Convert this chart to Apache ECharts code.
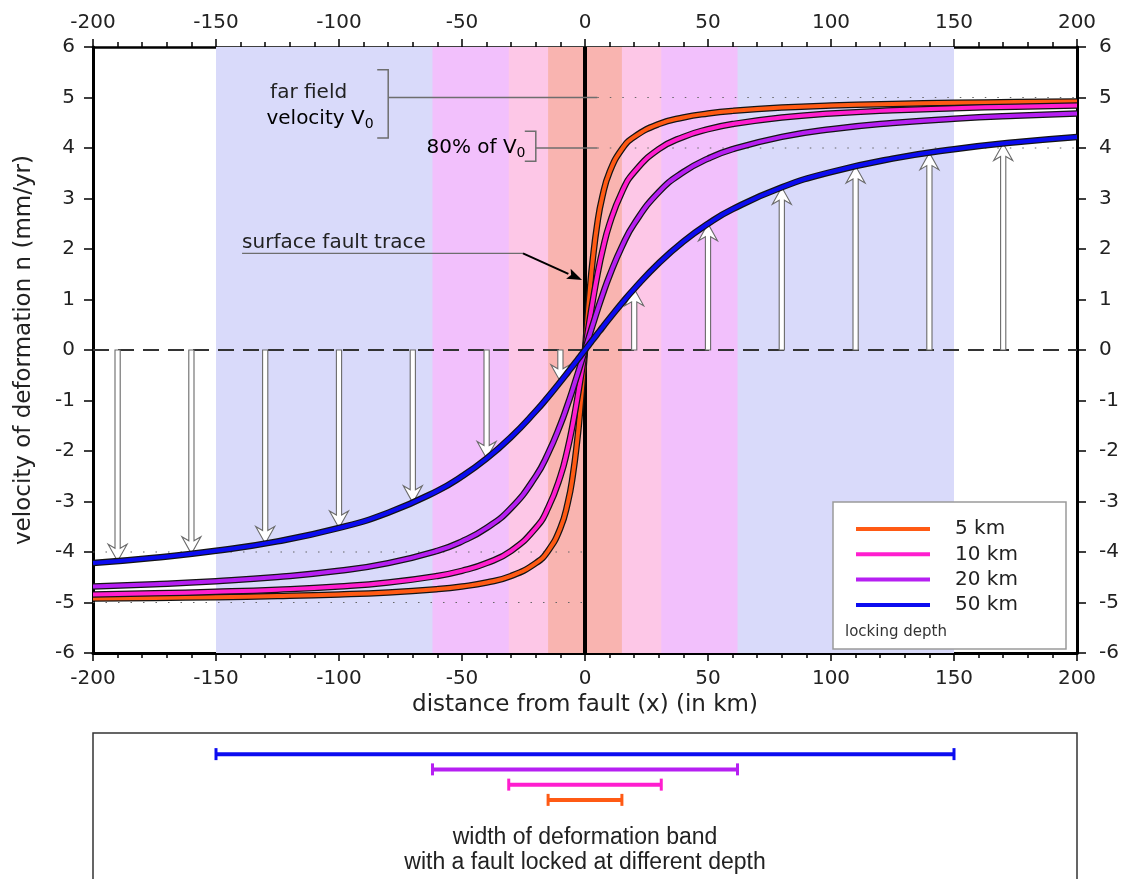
<!DOCTYPE html>
<html>
<head>
<meta charset="utf-8">
<script src="https://cdn.jsdelivr.net/npm/echarts/dist/echarts.min.js"></script>
<style>
  html, body { margin: 0; padding: 0; background: #ffffff; }
  #chart { width: 1129px; height: 879px; }
</style>
</head>
<body>
<div id="chart"></div>
<script>
// Distance from the fault (km) at which each velocity profile is sampled
const distanceKm = [-200, -175, -150, -125, -100, -80, -60, -50, -40, -30, -20, -15, -10, -7, -5, -3, -2, -1, 0,
                    1, 2, 3, 5, 7, 10, 15, 20, 30, 40, 50, 60, 80, 100, 125, 150, 175, 200];

// Velocity of deformation (mm/yr) for each locking depth
const depth5km  = [-4.920, -4.909, -4.894, -4.873, -4.841, -4.801, -4.735, -4.683, -4.604, -4.474, -4.220, -3.976, -3.524, -3.026, -2.500, -1.720, -1.211, -0.628, 0,
                   0.628, 1.211, 1.720, 2.500, 3.026, 3.524, 3.976, 4.220, 4.474, 4.604, 4.683, 4.735, 4.801, 4.841, 4.873, 4.894, 4.909, 4.920];
const depth10km = [-4.841, -4.818, -4.788, -4.746, -4.683, -4.604, -4.474, -4.372, -4.220, -3.976, -3.524, -3.128, -2.500, -1.944, -1.476, -0.928, -0.628, -0.317, 0,
                   0.317, 0.628, 0.928, 1.476, 1.944, 2.500, 3.128, 3.524, 3.976, 4.220, 4.372, 4.474, 4.604, 4.683, 4.746, 4.788, 4.818, 4.841];
const depth20km = [-4.683, -4.638, -4.578, -4.495, -4.372, -4.220, -3.976, -3.789, -3.524, -3.128, -2.500, -2.048, -1.476, -1.072, -0.780, -0.474, -0.317, -0.159, 0,
                   0.159, 0.317, 0.474, 0.780, 1.072, 1.476, 2.048, 2.500, 3.128, 3.524, 3.789, 3.976, 4.220, 4.372, 4.495, 4.578, 4.638, 4.683];
const depth50km = [-4.220, -4.114, -3.976, -3.789, -3.524, -3.222, -2.789, -2.500, -2.148, -1.720, -1.211, -0.928, -0.628, -0.443, -0.317, -0.191, -0.127, -0.064, 0,
                   0.064, 0.127, 0.191, 0.317, 0.443, 0.628, 0.928, 1.211, 1.720, 2.148, 2.500, 2.789, 3.222, 3.524, 3.789, 3.976, 4.114, 4.220];

const lockingDepths = ['5 km', '10 km', '20 km', '50 km'];
// Half-width (km) of the deformation band for each locking depth
const bandHalfWidth = [15, 31, 62, 150];

// Velocity arrows along the 50 km profile
const arrowX = [-190, -160, -130, -100, -70, -40, -10, 20, 50, 80, 110, 140, 170];
const arrowV = [-4.182, -4.036, -3.831, -3.524, -3.026, -2.148, -0.628, 1.211, 2.500, 3.222, 3.642, 3.908, 4.089];

// Reference velocities (mm/yr)
const farFieldV = 5;
const eightyPctV = 4;

// ---- styling ----
const FONT = '"DejaVu Sans", sans-serif';
const TEXT = '#222222';
const curveColors = ['#ff5a14', '#ff1ecf', '#b61ff2', '#0c0cf0'];
const bandColors  = ['#f9b4b0', '#fdc7e7', '#f2c0fc', '#d9dafa'];

const profiles = [depth5km, depth10km, depth20km, depth50km];

const chart = echarts.init(document.getElementById('chart'), null, { renderer: 'canvas' });

function valueXAxis(extra) {
  return Object.assign({
    type: 'value', gridIndex: 0, min: -200, max: 200, interval: 50,
    axisLine: { show: true, onZero: false, lineStyle: { color: '#000', width: 3 } },
    axisTick: { show: true, inside: false, length: 8, lineStyle: { color: '#000', width: 1.5 } },
    minorTick: { show: true, splitNumber: 5, length: 5, lineStyle: { color: '#000', width: 1.5 } },
    splitLine: { show: false },
    axisLabel: { fontSize: 20, fontFamily: FONT, color: TEXT }
  }, extra);
}
function valueYAxis(extra) {
  return Object.assign({
    type: 'value', gridIndex: 0, min: -6, max: 6, interval: 1,
    axisLine: { show: true, onZero: false, lineStyle: { color: '#000', width: 3 } },
    axisTick: { show: true, inside: false, length: 9, lineStyle: { color: '#000', width: 1.5 } },
    splitLine: { show: false },
    axisLabel: { fontSize: 20, fontFamily: FONT, color: TEXT }
  }, extra);
}

const series = [];

// Shaded deformation bands, widest first
const bandData = bandHalfWidth.map((w, i) => [w, i]).sort((a, b) => b[0] - a[0]);
series.push({
  type: 'custom', name: 'bands', xAxisIndex: 0, yAxisIndex: 0, silent: true, z: 1,
  encode: { x: 0, y: 1 },
  data: bandData,
  renderItem(params, api) {
    const w = api.value(0);
    const p0 = api.coord([-w, 6]);
    const p1 = api.coord([w, -6]);
    return { type: 'rect', shape: { x: p0[0], y: p0[1], width: p1[0] - p0[0], height: p1[1] - p0[1] },
             style: { fill: bandColors[api.value(1)] } };
  }
});

// Dotted far-field and 80 % reference lines
const dotted = { color: '#666', width: 1.2, type: [1.5, 11] };
[[[5, farFieldV], [200, farFieldV]], [[5, eightyPctV], [200, eightyPctV]],
 [[-200, -farFieldV], [0, -farFieldV]], [[-200, -eightyPctV], [0, -eightyPctV]]].forEach((d, k) => {
  series.push({ type: 'line', name: 'ref' + k, data: d, symbol: 'none', silent: true, z: 2, lineStyle: dotted });
});

// Zero-velocity dashed line
series.push({ type: 'line', name: 'zero', data: [[-200, 0], [200, 0]], symbol: 'none', silent: true, z: 2,
              lineStyle: { color: '#333', width: 2, type: [16, 9] } });

// Surface trace of the fault
series.push({ type: 'line', name: 'fault', data: [[0, -6], [0, 6]], symbol: 'none', silent: true, z: 2,
              lineStyle: { color: '#000', width: 4 } });

// Hollow velocity arrows from zero to the 50 km profile
series.push({
  type: 'custom', name: 'arrows', xAxisIndex: 0, yAxisIndex: 0, silent: true, z: 3,
  encode: { x: 0, y: 1 },
  data: arrowX.map((x, i) => [x, arrowV[i]]),
  renderItem(params, api) {
    const base = api.coord([api.value(0), 0]);
    const tip = api.coord([api.value(0), api.value(1)]);
    const dir = tip[1] > base[1] ? 1 : -1;
    const sw = 2.6, hw = 9.5, hl = 17, sweep = 4;
    const barb = tip[1] - dir * hl;
    const join = tip[1] - dir * (hl - sweep);
    const cx = base[0];
    return {
      type: 'polygon',
      shape: { points: [[cx - sw, base[1]], [cx - sw, join], [cx - hw, barb], [cx, tip[1]],
                        [cx + hw, barb], [cx + sw, join], [cx + sw, base[1]]] },
      style: { fill: '#ffffff', stroke: '#6a6a6a', lineWidth: 1.1 }
    };
  }
});

// Velocity profiles: dark edge underneath, coloured core on top
lockingDepths.forEach((name, i) => {
  const pts = distanceKm.map((x, j) => [x, profiles[i][j]]);
  series.push({ type: 'line', name: name + ' edge', data: pts, symbol: 'none', smooth: 0.5,
                silent: true, z: 4, lineStyle: { color: '#141414', width: 6.5, join: 'round' } });
  series.push({ type: 'line', name: name, data: pts, symbol: 'none', smooth: 0.5,
                z: 4, color: curveColors[i], itemStyle: { color: curveColors[i] },
                lineStyle: { color: curveColors[i], width: 4, join: 'round' } });
});

// Band widths in the lower panel
series.push({
  type: 'custom', name: 'band widths', xAxisIndex: 2, yAxisIndex: 2, silent: true, z: 4,
  encode: { x: 0, y: 1 },
  data: lockingDepths.map((d, i) => [bandHalfWidth[i], d]),
  renderItem(params, api) {
    const w = api.value(0);
    const row = api.value(1);
    const a = api.coord([-w, row]);
    const b = api.coord([w, row]);
    const c = curveColors[params.dataIndex];
    const st = { stroke: c, lineWidth: 4 };
    const cap = { stroke: c, lineWidth: 3 };
    return { type: 'group', children: [
      { type: 'line', shape: { x1: a[0], y1: a[1], x2: b[0], y2: b[1] }, style: st },
      { type: 'line', shape: { x1: a[0], y1: a[1] - 6, x2: a[0], y2: a[1] + 6 }, style: cap },
      { type: 'line', shape: { x1: b[0], y1: b[1] - 6, x2: b[0], y2: b[1] + 6 }, style: cap }
    ] };
  }
});

const option = {
  animation: false,
  backgroundColor: '#ffffff',
  textStyle: { fontFamily: FONT },
  grid: [
    { left: 93, right: 52, top: 47, bottom: 226, outerBoundsMode: 'none', containLabel: false },
    { left: 93, right: 52, top: 746.5, height: 61, outerBoundsMode: 'none', containLabel: false }
  ],
  xAxis: [
    valueXAxis({ position: 'bottom', axisLabel: { fontSize: 20, fontFamily: FONT, color: TEXT, margin: 16 },
                 name: 'distance from fault (x) (in km)', nameLocation: 'middle', nameGap: 40,
                 nameTextStyle: { fontSize: 23, fontFamily: FONT, color: TEXT } }),
    valueXAxis({ position: 'top', axisLine: { show: true, onZero: false, lineStyle: { color: '#000', width: 2.5 } },
                 axisLabel: { fontSize: 20, fontFamily: FONT, color: TEXT, margin: 14 } }),
    { type: 'value', gridIndex: 1, min: -200, max: 200, show: false }
  ],
  yAxis: [
    valueYAxis({ position: 'left', axisLabel: { fontSize: 20, fontFamily: FONT, color: TEXT, margin: 18 },
                 name: 'velocity of deformation n (mm/yr)', nameLocation: 'middle', nameGap: 57, nameRotate: 90,
                 nameTextStyle: { fontSize: 23, fontFamily: FONT, color: TEXT } }),
    valueYAxis({ position: 'right', axisLabel: { fontSize: 20, fontFamily: FONT, color: TEXT, margin: 22 } }),
    { type: 'category', gridIndex: 1, data: lockingDepths, show: false }
  ],
  legend: {
    data: lockingDepths, orient: 'vertical', left: 856, top: 519, padding: 0,
    icon: 'rect', itemWidth: 74, itemHeight: 4, itemGap: 5.3, selectedMode: false, z: 20,
    textStyle: { fontSize: 20, fontFamily: FONT, color: TEXT, lineHeight: 20, padding: [0, 0, 0, 20] }
  },
  series: series
};

chart.setOption(option);

// ---- annotations placed from data coordinates ----
const P = (x, y) => chart.convertToPixel({ xAxisIndex: 0, yAxisIndex: 0 }, [x, y]);
const LEAD = '#6e6e6e';
const annoFont = { fontSize: 20, fontFamily: FONT, fill: TEXT };
const subRich = {
  m: { fontSize: 20, fontFamily: FONT, color: TEXT, lineHeight: 24, verticalAlign: 'middle' },
  s: { fontSize: 14, fontFamily: FONT, color: TEXT, lineHeight: 14, verticalAlign: 'bottom' }
};
const g = [];

function bracket(x, yTop, yBot) {
  const t = P(x, yTop), b = P(x, yBot);
  g.push({ type: 'polyline', z: 6, shape: { points: [[t[0] - 11, t[1]], [t[0], t[1]], [b[0], b[1]], [b[0] - 11, b[1]]] },
           style: { stroke: LEAD, lineWidth: 1.5, fill: null } });
}
function leader(x1, y1, x2, y2) {
  const a = P(x1, y1), b = P(x2, y2);
  g.push({ type: 'line', z: 6, shape: { x1: a[0], y1: a[1], x2: b[0], y2: b[1] }, style: { stroke: LEAD, lineWidth: 1.3 } });
}

// far-field velocity
bracket(-80, 5.55, 4.2);
leader(-80, farFieldV, 5, farFieldV);
let p = P(-128, 5.1);
g.push({ type: 'text', z: 6, x: p[0], y: p[1], style: Object.assign({ text: 'far field', align: 'left', verticalAlign: 'middle' }, annoFont) });
p = P(-129.5, 4.57);
g.push({ type: 'text', z: 6, x: p[0], y: p[1], style: { text: '{m|velocity V}{s|0}', rich: subRich, align: 'left', verticalAlign: 'middle' } });

// 80 % of far-field velocity
bracket(-20, 4.33, 3.74);
leader(-20, eightyPctV, 5, eightyPctV);
p = P(-24.2, 4.0);
g.push({ type: 'text', z: 6, x: p[0], y: p[1], style: { text: '{m|80% of V}{s|0}', rich: subRich, align: 'right', verticalAlign: 'middle' } });

// surface fault trace label with arrow
p = P(-139.4, 2.13);
g.push({ type: 'text', z: 6, x: p[0], y: p[1], style: Object.assign({ text: 'surface fault trace', align: 'left', verticalAlign: 'middle' }, annoFont) });
leader(-139.4, 1.915, -25.2, 1.915);
const aS = P(-25.2, 1.915), aE = P(-1.2, 1.386);
const dx = aE[0] - aS[0], dy = aE[1] - aS[1], len = Math.hypot(dx, dy);
const ux = dx / len, uy = dy / len, hl = 15, hw = 5.5;
const hb = [aE[0] - ux * hl, aE[1] - uy * hl];
g.push({ type: 'line', z: 6, shape: { x1: aS[0], y1: aS[1], x2: hb[0], y2: hb[1] }, style: { stroke: '#000', lineWidth: 2 } });
g.push({ type: 'polygon', z: 6, shape: { points: [aE, [hb[0] - uy * hw, hb[1] + ux * hw], [hb[0] + ux * 3, hb[1] + uy * 3], [hb[0] + uy * hw, hb[1] - ux * hw]] },
         style: { fill: '#000' } });

// legend frame
g.push({ type: 'rect', z: 10, shape: { x: 833, y: 502, width: 233, height: 147 }, style: { fill: '#ffffff', stroke: '#9a9a9a', lineWidth: 1.5 } });
g.push({ type: 'text', z: 11, x: 845, y: 632, style: { text: 'locking depth', fontSize: 15, fontFamily: FONT, fill: '#333', align: 'left', verticalAlign: 'middle' } });

// lower panel frame and caption
const left = P(-200, 0)[0], right = P(200, 0)[0], mid = P(0, 0)[0];
g.push({ type: 'rect', z: 6, shape: { x: left, y: 733, width: right - left, height: 200 }, style: { fill: null, stroke: '#333', lineWidth: 1.5 } });
const capFont = { fontSize: 23, fontFamily: '"Liberation Sans", Arial, sans-serif', fill: TEXT, align: 'center', verticalAlign: 'middle' };
g.push({ type: 'text', z: 6, x: mid, y: 838, style: Object.assign({ text: 'width of deformation band' }, capFont) });
g.push({ type: 'text', z: 6, x: mid, y: 863, style: Object.assign({ text: 'with a fault locked at different depth' }, capFont) });

chart.setOption({ graphic: { elements: g } });
</script>
</body>
</html>
